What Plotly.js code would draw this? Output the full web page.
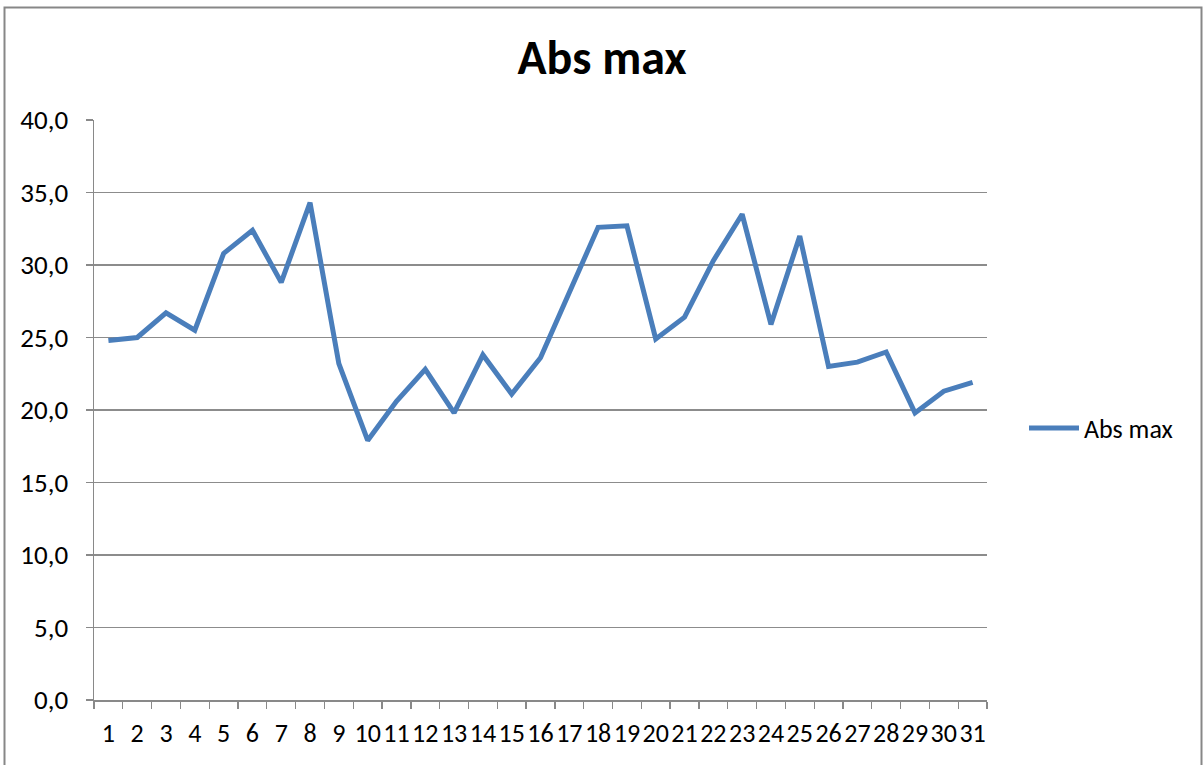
<!DOCTYPE html>
<html>
<head>
<meta charset="utf-8">
<script src="https://cdn.plot.ly/plotly-3.0.1.min.js"></script>
<style>
html,body{margin:0;padding:0;background:#fff;}
#chart{width:1204px;height:765px;}
</style>
</head>
<body>
<div id="chart"></div>
<script>
const days = ["1","2","3","4","5","6","7","8","9","10","11","12","13","14","15","16","17","18","19","20","21","22","23","24","25","26","27","28","29","30","31"];
const absMax = [24.8,25.0,26.7,25.5,30.8,32.4,28.8,34.3,23.2,17.9,20.6,22.8,19.8,23.8,21.1,23.6,28.1,32.6,32.7,24.9,26.4,30.3,33.5,25.9,32.0,23.0,23.3,24.0,19.8,21.3,21.9];
const seriesName = "Abs max";
const titleText = "Abs max";

const L = 94, R = 987, T = 120, B = 700;
const W = 1204, H = 765;
const px = v => (v - L) / (R - L);
const py = v => (B - v) / (B - T);

const trace = {
  x: days, y: absMax, type: "scatter", mode: "lines", name: seriesName,
  line: {color: "#4a7ebb", width: 5},
  hoverinfo: "x+y"
};

const layout = {
  width: W, height: H,
  margin: {l: L, r: W - R, t: T, b: H - B, pad: 0},
  paper_bgcolor: "#fff", plot_bgcolor: "#fff",
  separators: ", ",
  font: {family: "Carlito, Calibri, 'Open Sans', 'Noto Sans', sans-serif", size: 26, color: "#000"},
  title: {text: "<b>" + titleText + "</b>", font: {size: 48, color: "#000"}, x: 0.5, xanchor: "center", y: 1 - 57 / H, yanchor: "middle"},
  xaxis: {
    type: "category", range: [-0.5, 30.5], tickson: "boundaries",
    tickmode: "array", tickvals: days, ticktext: days,
    ticks: "outside", ticklen: 7, tickcolor: "#898989", tickwidth: 1.3,
    showline: true, linecolor: "#898989", linewidth: 1.5,
    showgrid: false, zeroline: false, fixedrange: true,
    tickfont: {size: 26}, tickangle: 0, ticklabelstandoff: 9
  },
  yaxis: {
    range: [0, 40], dtick: 5, tick0: 0, tickformat: ".1f",
    ticks: "outside", ticklen: 7, tickcolor: "#898989", tickwidth: 1.3,
    showline: true, linecolor: "#898989", linewidth: 1.5,
    showgrid: true, gridcolor: "#8c8c8c", gridwidth: 1.5,
    zeroline: false, fixedrange: true, tickfont: {size: 27}, ticklabelstandoff: 12
  },
  showlegend: true,
  legend: {x: px(1024), xanchor: "left", y: py(428), yanchor: "middle", font: {size: 26}, bgcolor: "rgba(0,0,0,0)", itemwidth: 50},
  shapes: [{
    type: "rect", xref: "paper", yref: "paper",
    x0: px(4.5), x1: px(1201.5), y0: py(780), y1: py(7.5),
    line: {color: "#878787", width: 2}, fillcolor: "rgba(0,0,0,0)", layer: "below"
  }]
};

Plotly.newPlot("chart", [trace], layout, {displayModeBar: false, staticPlot: true});
</script>
</body>
</html>
